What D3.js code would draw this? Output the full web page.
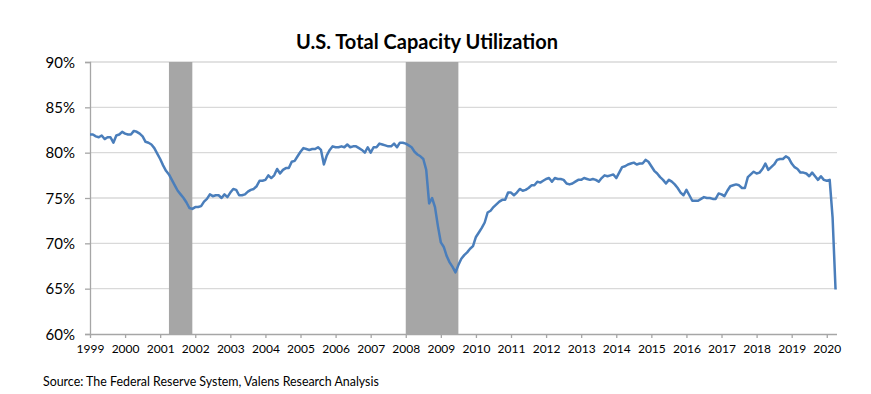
<!DOCTYPE html>
<html>
<head>
<meta charset="utf-8">
<script src="https://cdn.jsdelivr.net/npm/d3@7"></script>
<style>
  body { margin: 0; background: #fff; }
  #chart { width: 871px; height: 394px; }
  .title { font-family: Lato, "Open Sans", sans-serif; font-weight: bold; font-size: 20px; fill: #000; }
  .yLabel { font-family: Lato, "Open Sans", sans-serif; font-size: 15px; fill: #000; }
  .xLabel { font-family: Lato, "Open Sans", sans-serif; font-size: 12px; fill: #000; }
  .source { font-family: Lato, "Open Sans", sans-serif; font-size: 12.4px; fill: #000; }
</style>
</head>
<body>
<div id="chart"></div>
<script>
// monthly capacity utilization, Jan 1999 .. Apr 2020 (%)
var startYear = 1999;
var utilization = [
  82.0, 82.0, 81.8, 81.7, 81.9, 81.5, 81.7, 81.7, 81.1, 81.9, 82.0, 82.3, // 1999
  82.1, 82.0, 82.0, 82.4, 82.3, 82.1, 81.8, 81.2, 81.1, 80.9, 80.5, 79.9, // 2000
  79.3, 78.6, 78.0, 77.6, 77.0, 76.4, 75.8, 75.4, 75.0, 74.5, 73.9, 73.8, // 2001
  74.0, 74.0, 74.1, 74.6, 74.9, 75.4, 75.2, 75.3, 75.3, 75.0, 75.4, 75.1, // 2002
  75.6, 76.0, 75.9, 75.3, 75.3, 75.4, 75.7, 75.9, 76.0, 76.3, 76.9, 76.9, // 2003
  77.0, 77.5, 77.2, 77.5, 78.2, 77.7, 78.1, 78.3, 78.3, 79.0, 79.1, 79.6, // 2004
  80.1, 80.5, 80.4, 80.3, 80.4, 80.4, 80.6, 80.3, 78.7, 79.7, 80.3, 80.7, // 2005
  80.6, 80.6, 80.7, 80.6, 80.9, 80.6, 80.7, 80.7, 80.5, 80.3, 80.0, 80.6, // 2006
  80.0, 80.6, 80.6, 81.0, 80.9, 80.8, 80.7, 80.7, 81.0, 80.6, 81.1, 81.1, // 2007
  81.0, 80.8, 80.6, 80.1, 79.8, 79.6, 79.3, 78.1, 74.4, 75.0, 74.0, 71.9, // 2008
  70.1, 69.6, 68.6, 67.9, 67.4, 66.8, 67.6, 68.3, 68.7, 69.0, 69.4, 69.7, // 2009
  70.7, 71.2, 71.7, 72.3, 73.4, 73.6, 74.0, 74.3, 74.6, 74.8, 74.8, 75.6, // 2010
  75.6, 75.3, 75.6, 76.0, 75.8, 75.9, 76.1, 76.4, 76.4, 76.8, 76.7, 76.9, // 2011
  77.1, 77.2, 76.8, 77.2, 77.1, 77.1, 77.0, 76.6, 76.5, 76.6, 76.8, 77.0, // 2012
  77.0, 77.2, 77.1, 77.0, 77.1, 77.0, 76.8, 77.2, 77.5, 77.4, 77.5, 77.6, // 2013
  77.2, 77.8, 78.4, 78.5, 78.7, 78.8, 78.9, 78.7, 78.8, 78.8, 79.2, 79.0, // 2014
  78.5, 78.0, 77.7, 77.3, 77.0, 76.6, 77.0, 76.8, 76.5, 76.1, 75.6, 75.3, // 2015
  75.9, 75.3, 74.7, 74.7, 74.7, 74.9, 75.1, 75.0, 75.0, 74.9, 74.9, 75.5, // 2016
  75.4, 75.2, 75.8, 76.3, 76.4, 76.5, 76.4, 76.1, 76.1, 77.3, 77.6, 77.9, // 2017
  77.7, 77.8, 78.2, 78.8, 78.1, 78.4, 78.7, 79.2, 79.3, 79.3, 79.6, 79.4, // 2018
  78.8, 78.4, 78.2, 77.8, 77.8, 77.7, 77.4, 77.8, 77.4, 77.0, 77.4, 77.0, // 2019
  76.9, 77.0, 72.8, 64.9                                                  // 2020
];

// recessions as [first month, last month] (YYYY-MM)
var recessions = [["2001-04", "2001-11"], ["2008-01", "2009-06"]];

var yTicks = [60, 65, 70, 75, 80, 85, 90];
var xYears = d3.range(1999, 2021);

function monthIndex(s) {
  var p = s.split("-");
  return (+p[0] - startYear) * 12 + (+p[1] - 1);
}

var width = 871, height = 394;
var plotLeft = 90, plotRight = 837, plotTop = 62, plotBottom = 334;

var svg = d3.select("#chart").append("svg")
    .attr("width", width)
    .attr("height", height);

var x = d3.scaleLinear()
    .domain([0, 255.5])
    .range([plotLeft, plotRight]);

var y = d3.scaleLinear()
    .domain([60, 90])
    .range([plotBottom, plotTop]);

// title
svg.append("text")
    .attr("class", "title")
    .attr("x", 427)
    .attr("y", 49)
    .attr("text-anchor", "middle")
    .text("U.S. Total Capacity Utilization");

// gridlines
svg.append("g")
    .selectAll("line")
    .data(yTicks.filter(function(d) { return d > 60; }))
    .join("line")
    .attr("x1", plotLeft)
    .attr("x2", plotRight)
    .attr("y1", function(d) { return y(d); })
    .attr("y2", function(d) { return y(d); })
    .attr("stroke", "#d9d9d9")
    .attr("stroke-width", 1.3);

// recession bands
svg.append("g")
    .selectAll("rect")
    .data(recessions)
    .join("rect")
    .attr("x", function(d) { return x(monthIndex(d[0])); })
    .attr("width", function(d) { return x(monthIndex(d[1]) + 1) - x(monthIndex(d[0])); })
    .attr("y", plotTop)
    .attr("height", plotBottom - plotTop)
    .attr("fill", "#a6a6a6");

// y axis
var yAxis = svg.append("g")
    .attr("transform", "translate(" + plotLeft + ",0)")
    .call(d3.axisLeft(y).tickValues(yTicks).tickSize(5).tickFormat(function(d) { return d + "%"; }));
yAxis.select(".domain").attr("stroke", "#a6a6a6").attr("stroke-width", 1.3);
yAxis.selectAll(".tick line").attr("stroke", "#a6a6a6").attr("stroke-width", 1.3);
yAxis.selectAll(".tick text")
    .attr("class", "yLabel")
    .attr("x", -15)
    .attr("dy", "0.35em");

// x axis
var xAxis = svg.append("g")
    .attr("transform", "translate(0," + plotBottom + ")")
    .call(d3.axisBottom(x)
        .tickValues(xYears.map(function(yr) { return (yr - startYear) * 12; }))
        .tickSize(4)
        .tickFormat(function(d) { return startYear + d / 12; }));
xAxis.select(".domain")
    .attr("d", "M" + plotLeft + ",0.5H" + plotRight)
    .attr("stroke", "#a6a6a6").attr("stroke-width", 1.3);
xAxis.selectAll(".tick line").attr("stroke", "#a6a6a6").attr("stroke-width", 1.3);
xAxis.selectAll(".tick text")
    .attr("class", "xLabel")
    .attr("y", 10);
svg.selectAll("g").attr("font-family", null).attr("font-size", null);

// line
var line = d3.line()
    .x(function(d, i) { return x(i); })
    .y(function(d) { return y(d); });

svg.append("path")
    .datum(utilization)
    .attr("d", line)
    .attr("fill", "none")
    .attr("stroke", "#4a7ebb")
    .attr("stroke-width", 2.5)
    .attr("stroke-linejoin", "round");

// source
svg.append("text")
    .attr("class", "source")
    .attr("x", 43)
    .attr("y", 386)
    .text("Source: The Federal Reserve System, Valens Research Analysis");
</script>
</body>
</html>
